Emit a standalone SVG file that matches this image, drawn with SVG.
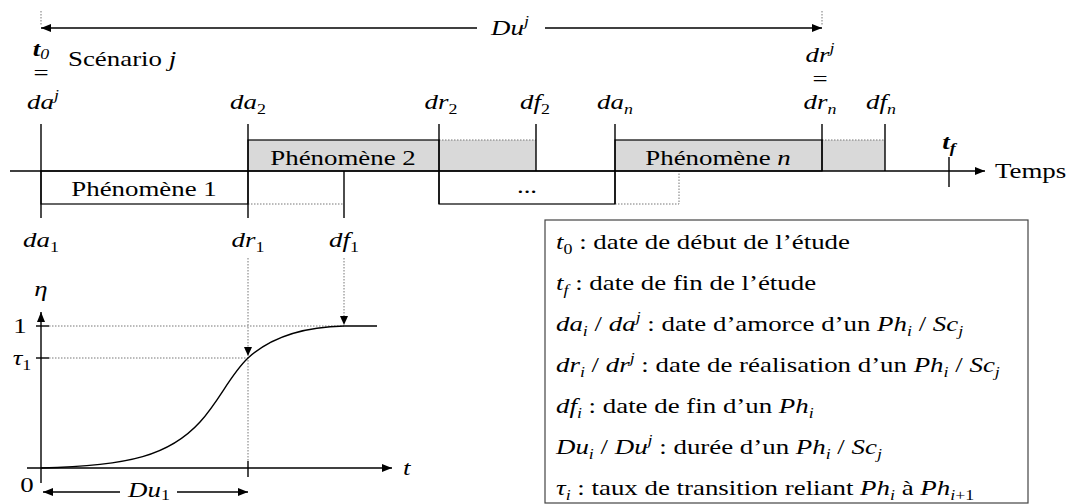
<svg xmlns="http://www.w3.org/2000/svg" width="1074" height="504" viewBox="0 0 1074 504">
<style>
.t{font-family:'Liberation Serif','DejaVu Serif',serif;font-size:21px;fill:#000}
.i{font-style:italic}
.b{font-weight:bold}
.s{font-size:14px}
.ln{stroke:#000;stroke-width:1.4;fill:none}
.bx{stroke:#000;stroke-width:1.2}
.dot{stroke:#777;stroke-width:1;stroke-dasharray:1.5 1.5;fill:none}
.gr{fill:#d9d9d9}
</style>
<defs>
<marker id="ah" markerUnits="userSpaceOnUse" markerWidth="10" markerHeight="8" refX="10" refY="4" orient="auto"><path d="M0,0 L10,4 L0,8 z" fill="#000"/></marker>
<marker id="ahs" markerUnits="userSpaceOnUse" markerWidth="10" markerHeight="8" refX="10" refY="4" orient="auto-start-reverse"><path d="M0,0 L10,4 L0,8 z" fill="#000"/></marker>
</defs>

<g id="scenario">
<line class="dot" x1="41" y1="11" x2="41" y2="25"/>
<line class="dot" x1="822" y1="11" x2="822" y2="25"/>
<line class="ln" x1="41" y1="28" x2="477" y2="28" marker-start="url(#ahs)"/>
<line class="ln" x1="545" y1="28" x2="822" y2="28" marker-end="url(#ah)"/>
<text class="t" text-anchor="middle" transform="translate(510,35) scale(1.28,1)"><tspan class="i">Du</tspan><tspan class="s i" dy="-9">j</tspan></text>
<text class="t" text-anchor="middle" transform="translate(41,56) scale(1.28,1)"><tspan class="i b">t</tspan><tspan class="s i" dy="3">0</tspan></text>
<text class="t" text-anchor="middle" transform="translate(41,80) scale(1.28,1)">=</text>
<text class="t" transform="translate(68,66) scale(1.28,1)">Scénario <tspan class="i">j</tspan></text>
<text class="t" text-anchor="middle" transform="translate(820,62) scale(1.28,1)"><tspan class="i">dr</tspan><tspan class="s i" dy="-9">j</tspan></text>
<text class="t" text-anchor="middle" transform="translate(820,86) scale(1.28,1)">=</text>
</g>

<g id="ph1">
<rect x="41" y="171" width="207" height="33" fill="#fff" class="bx"/>
<text class="t" text-anchor="middle" transform="translate(144,196) scale(1.28,1)">Phénomène 1</text>
<line class="dot" x1="248" y1="204" x2="344" y2="204"/>
<line class="ln" x1="344" y1="171" x2="344" y2="218"/>
</g>

<g id="ph2">
<rect x="439" y="140" width="97" height="31" class="gr"/>
<line class="dot" x1="439" y1="140" x2="536" y2="140"/>
<rect x="248" y="140" width="191" height="31" class="gr bx"/>
<text class="t" text-anchor="middle" transform="translate(343,165) scale(1.28,1)">Phénomène 2</text>
<line class="ln" x1="536" y1="124" x2="536" y2="171"/>
</g>

<g id="phdots">
<rect x="439" y="171" width="176" height="33" fill="#fff" class="bx"/>
<text class="t" text-anchor="middle" transform="translate(527,193) scale(1.28,1)">...</text>
<polyline class="dot" points="615,204 679,204 679,171"/>
</g>

<g id="phn">
<rect x="822" y="140" width="63" height="31" class="gr"/>
<line class="dot" x1="822" y1="140" x2="885" y2="140"/>
<rect x="615" y="140" width="207" height="31" class="gr bx"/>
<text class="t" text-anchor="middle" transform="translate(718,165) scale(1.28,1)">Phénomène <tspan class="i">n</tspan></text>
<line class="ln" x1="885" y1="124" x2="885" y2="171"/>
</g>

<g id="timeline">
<line class="ln" x1="10" y1="171" x2="985" y2="171" marker-end="url(#ah)"/>
<line class="ln" x1="41" y1="124" x2="41" y2="218"/>
<line class="ln" x1="248" y1="124" x2="248" y2="218"/>
<line class="ln" x1="439" y1="124" x2="439" y2="204"/>
<line class="ln" x1="615" y1="124" x2="615" y2="204"/>
<line class="ln" x1="822" y1="124" x2="822" y2="171"/>
<line class="ln" x1="949" y1="157" x2="949" y2="187"/>
<text class="t" transform="translate(995,178) scale(1.28,1)">Temps</text>
<text class="t" text-anchor="middle" transform="translate(949,149) scale(1.28,1)"><tspan class="i b">t</tspan><tspan class="s i b" dy="4">f</tspan></text>
<text class="t" text-anchor="middle" transform="translate(43,109) scale(1.28,1)"><tspan class="i">da</tspan><tspan class="s i" dy="-9">j</tspan></text>
<text class="t" text-anchor="middle" transform="translate(248,109) scale(1.28,1)"><tspan class="i">da</tspan><tspan class="s" dy="5">2</tspan></text>
<text class="t" text-anchor="middle" transform="translate(441,109) scale(1.28,1)"><tspan class="i">dr</tspan><tspan class="s" dy="5">2</tspan></text>
<text class="t" text-anchor="middle" transform="translate(535,109) scale(1.28,1)"><tspan class="i">df</tspan><tspan class="s" dy="5">2</tspan></text>
<text class="t" text-anchor="middle" transform="translate(615,109) scale(1.28,1)"><tspan class="i">da</tspan><tspan class="s i" dy="5">n</tspan></text>
<text class="t" text-anchor="middle" transform="translate(820,109) scale(1.28,1)"><tspan class="i">dr</tspan><tspan class="s i" dy="5">n</tspan></text>
<text class="t" text-anchor="middle" transform="translate(881,109) scale(1.28,1)"><tspan class="i">df</tspan><tspan class="s i" dy="5">n</tspan></text>
<text class="t" text-anchor="middle" transform="translate(41,247) scale(1.28,1)"><tspan class="i">da</tspan><tspan class="s" dy="5">1</tspan></text>
<text class="t" text-anchor="middle" transform="translate(248,247) scale(1.28,1)"><tspan class="i">dr</tspan><tspan class="s" dy="5">1</tspan></text>
<text class="t" text-anchor="middle" transform="translate(344,247) scale(1.28,1)"><tspan class="i">df</tspan><tspan class="s" dy="5">1</tspan></text>
</g>

<g id="chart">
<line class="dot" x1="49" y1="326" x2="344" y2="326"/>
<line class="dot" x1="49" y1="358" x2="248" y2="358"/>
<line class="dot" x1="248" y1="258" x2="248" y2="462"/>
<line class="dot" x1="344" y1="258" x2="344" y2="318"/>
<line class="ln" x1="41" y1="483" x2="41" y2="312" marker-end="url(#ah)"/>
<line class="ln" x1="27" y1="468" x2="392" y2="468" marker-end="url(#ah)"/>
<line class="ln" x1="36" y1="326" x2="49" y2="326"/>
<line class="ln" x1="36" y1="358" x2="49" y2="358"/>
<line class="ln" x1="248" y1="461" x2="248" y2="477"/>
<path d="M244,347 L252,347 L248,356 z" fill="#000"/>
<path d="M340,316 L348,316 L344,325 z" fill="#000"/>
<path class="ln" d="M41,468 C130,466 170,455 200,422 C220,400 230,375 248,358 C270,338 300,327 344,326 L377,326"/>
<line class="ln" x1="43" y1="492" x2="120" y2="492" marker-start="url(#ahs)"/>
<line class="ln" x1="177" y1="492" x2="248" y2="492" marker-end="url(#ah)"/>
<text class="t" text-anchor="middle" transform="translate(149,497) scale(1.28,1)"><tspan class="i">Du</tspan><tspan class="s" dy="3">1</tspan></text>
<text class="t i" text-anchor="middle" transform="translate(41,296) scale(1.28,1)">η</text>
<text class="t" text-anchor="middle" transform="translate(20,333) scale(1.28,1)">1</text>
<text class="t" text-anchor="middle" transform="translate(22,365) scale(1.28,1)"><tspan class="i">τ</tspan><tspan class="s" dy="5">1</tspan></text>
<text class="t" text-anchor="middle" transform="translate(27,492) scale(1.28,1)">0</text>
<text class="t i" transform="translate(403,475) scale(1.28,1)">t</text>
</g>

<g id="legend">
<rect x="545" y="220" width="483" height="283" fill="#fff" stroke="#444" stroke-width="1.2"/>
<text class="t" transform="translate(556,249) scale(1.28,1)"><tspan class="i">t</tspan><tspan class="s" dy="5">0</tspan><tspan dy="-5"> : date de début de l’étude</tspan></text>
<text class="t" transform="translate(556,290) scale(1.28,1)"><tspan class="i">t</tspan><tspan class="s i" dy="5">f</tspan><tspan dy="-5"> : date de fin de l’étude</tspan></text>
<text class="t" transform="translate(556,331) scale(1.28,1)"><tspan class="i">da</tspan><tspan class="s i" dy="5">i</tspan><tspan dy="-5"> / </tspan><tspan class="i">da</tspan><tspan class="s i" dy="-9">j</tspan><tspan dy="9"> : date d’amorce d’un </tspan><tspan class="i">Ph</tspan><tspan class="s i" dy="5">i</tspan><tspan dy="-5"> / </tspan><tspan class="i">Sc</tspan><tspan class="s i" dy="5">j</tspan></text>
<text class="t" transform="translate(556,372) scale(1.28,1)"><tspan class="i">dr</tspan><tspan class="s i" dy="5">i</tspan><tspan dy="-5"> / </tspan><tspan class="i">dr</tspan><tspan class="s i" dy="-9">j</tspan><tspan dy="9"> : date de réalisation d’un </tspan><tspan class="i">Ph</tspan><tspan class="s i" dy="5">i</tspan><tspan dy="-5"> / </tspan><tspan class="i">Sc</tspan><tspan class="s i" dy="5">j</tspan></text>
<text class="t" transform="translate(556,413) scale(1.28,1)"><tspan class="i">df</tspan><tspan class="s i" dy="5">i</tspan><tspan dy="-5"> : date de fin d’un </tspan><tspan class="i">Ph</tspan><tspan class="s i" dy="5">i</tspan></text>
<text class="t" transform="translate(556,454) scale(1.28,1)"><tspan class="i">Du</tspan><tspan class="s i" dy="5">i</tspan><tspan dy="-5"> / </tspan><tspan class="i">Du</tspan><tspan class="s i" dy="-9">j</tspan><tspan dy="9"> : durée d’un </tspan><tspan class="i">Ph</tspan><tspan class="s i" dy="5">i</tspan><tspan dy="-5"> / </tspan><tspan class="i">Sc</tspan><tspan class="s i" dy="5">j</tspan></text>
<text class="t" transform="translate(556,495) scale(1.28,1)"><tspan class="i">τ</tspan><tspan class="s i" dy="5">i</tspan><tspan dy="-5"> : taux de transition reliant  </tspan><tspan class="i">Ph</tspan><tspan class="s i" dy="5">i</tspan><tspan dy="-5"> à </tspan><tspan class="i">Ph</tspan><tspan class="s i" dy="5">i</tspan><tspan class="s">+1</tspan></text>
</g>
</svg>
